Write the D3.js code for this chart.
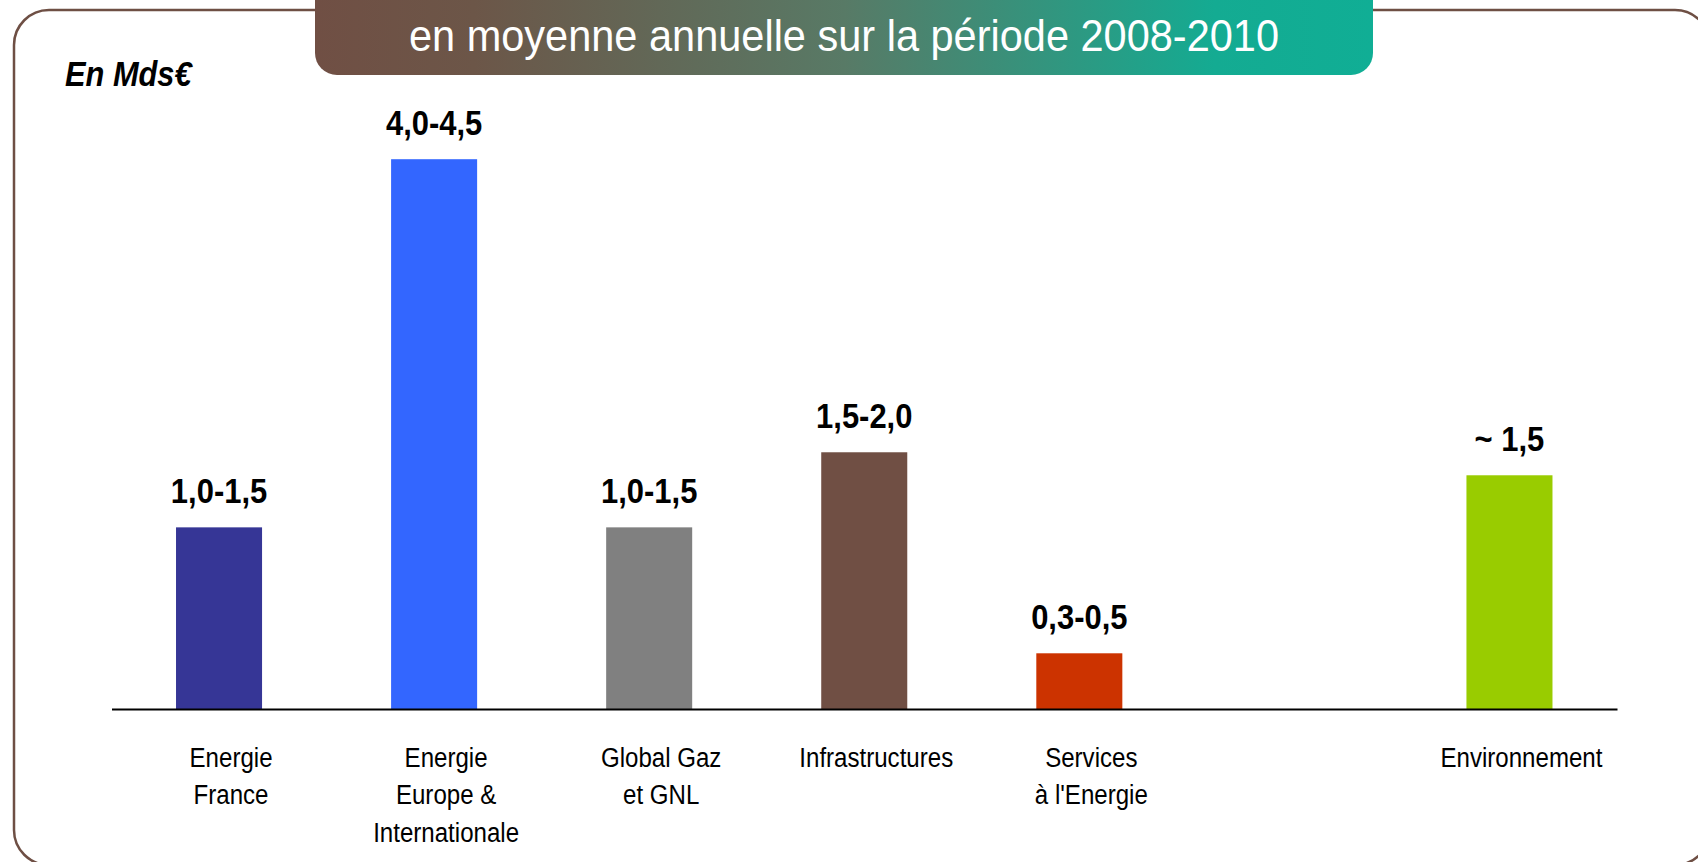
<!DOCTYPE html>
<html>
<head>
<meta charset="utf-8">
<script src="https://cdn.jsdelivr.net/npm/d3@7"></script>
<style>
  body { margin: 0; background: #fff; }
  svg { display: block; }
</style>
</head>
<body>
<div id="chart"></div>
<script>
// values in Mds€
const categories = ['Energie France', 'Energie Europe & Internationale', 'Global Gaz et GNL', 'Infrastructures', "Services à l'Energie", 'Environnement'];
const labelLines = [['Energie', 'France'], ['Energie', 'Europe &', 'Internationale'], ['Global Gaz', 'et GNL'], ['Infrastructures'], ['Services', "à l'Energie"], ['Environnement']];
const values = [1.5, 4.54, 1.5, 2.12, 0.46, 1.93];
const valueLabels = ['1,0-1,5', '4,0-4,5', '1,0-1,5', '1,5-2,0', '0,3-0,5', '~ 1,5'];
const colors = ['#363696', '#3366ff', '#808080', '#704f44', '#cc3300', '#99cc00'];
// the empty slot between Services and Environnement
const slots = categories.slice(0, 5).concat(['gap'], categories.slice(5));

const width = 1698;
const height = 862;
const font = '"Liberation Sans", Arial, sans-serif';
const squeeze = 0.86; // narrow look

const svg = d3.select('#chart')
    .append('svg')
    .attr('width', width)
    .attr('height', height);

const defs = svg.append('defs');
const grad = defs.append('linearGradient')
    .attr('id', 'titleGrad')
    .attr('x1', '0%').attr('x2', '100%')
    .attr('y1', '0%').attr('y2', '0%');
[['0%', '#704f44'], ['15%', '#6c5648'], ['50%', '#587a66'], ['85%', '#14ab92'], ['100%', '#10ae95']].forEach(s => {
    grad.append('stop').attr('offset', s[0]).attr('stop-color', s[1]);
});

// outer frame
svg.append('rect')
    .attr('x', 14).attr('y', 10)
    .attr('width', 1696).attr('height', 855)
    .attr('rx', 35).attr('ry', 35)
    .attr('fill', 'none')
    .attr('stroke', '#6e4f44')
    .attr('stroke-width', 2.5);

// title banner
svg.append('rect')
    .attr('x', 315).attr('y', -40)
    .attr('width', 1058).attr('height', 115)
    .attr('rx', 22).attr('ry', 22)
    .attr('fill', 'url(#titleGrad)');

svg.append('text')
    .attr('x', 844).attr('y', 51)
    .attr('text-anchor', 'middle')
    .attr('fill', '#fff')
    .attr('font-family', font)
    .attr('font-size', 44)
    .attr('textLength', 870)
    .attr('lengthAdjust', 'spacingAndGlyphs')
    .text('en moyenne annuelle sur la période 2008-2010');

svg.append('text')
    .attr('transform', 'translate(65,86) scale(0.88,1)')
    .attr('fill', '#000')
    .attr('font-family', font)
    .attr('font-style', 'italic')
    .attr('font-weight', 'bold')
    .attr('font-size', 35)
    .text('En Mds€');

const x = d3.scaleBand()
    .domain(slots)
    .range([111.5, 1617])
    .paddingInner(0.6)
    .paddingOuter(0.3);

const y = d3.scaleLinear()
    .domain([0, 5])
    .range([709, 709 - 5 * 121.1]);

const data = categories.map((c, i) => ({
    name: c,
    value: values[i],
    label: valueLabels[i],
    lines: labelLines[i],
    color: colors[i]
}));

const cx = d => x(d.name) + x.bandwidth() / 2;

svg.append('g')
    .selectAll('rect')
    .data(data)
    .enter()
    .append('rect')
    .attr('x', d => x(d.name))
    .attr('y', d => y(d.value))
    .attr('width', x.bandwidth())
    .attr('height', d => y(0) - y(d.value))
    .attr('fill', d => d.color);

svg.append('g')
    .selectAll('text')
    .data(data)
    .enter()
    .append('text')
    .attr('transform', d => `translate(${cx(d)},${y(d.value) - 24}) scale(${squeeze},1)`)
    .attr('text-anchor', 'middle')
    .attr('font-family', font)
    .attr('font-weight', 'bold')
    .attr('font-size', 36)
    .attr('fill', '#000')
    .text(d => d.label);

// baseline axis, no ticks
const axis = svg.append('g')
    .attr('transform', `translate(0,${y(0)})`)
    .call(d3.axisBottom(x).tickSize(0).tickFormat(''));
axis.select('.domain')
    .attr('stroke', '#000')
    .attr('stroke-width', 2);

// category labels sit a little right of the bar centres
const cats = svg.append('g')
    .selectAll('text')
    .data(data)
    .enter()
    .append('text')
    .attr('transform', d => `translate(${cx(d) + 12},767) scale(${squeeze},1)`)
    .attr('text-anchor', 'middle')
    .attr('font-family', font)
    .attr('font-size', 28)
    .attr('fill', '#000');

cats.selectAll('tspan')
    .data(d => d.lines)
    .enter()
    .append('tspan')
    .attr('x', 0)
    .attr('dy', (d, i) => i == 0 ? 0 : 37.3)
    .text(d => d);
</script>
</body>
</html>
